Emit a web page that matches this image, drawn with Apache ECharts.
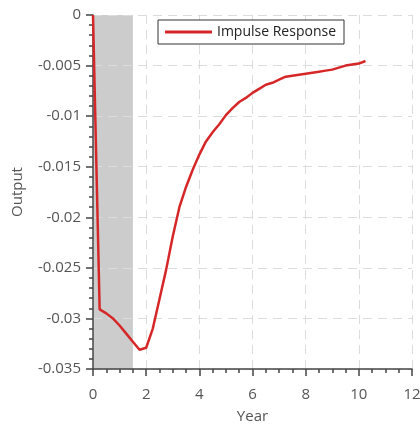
<!DOCTYPE html>
<html><head><meta charset="utf-8">
<script src="https://cdn.jsdelivr.net/npm/echarts@6/dist/echarts.min.js"></script>
<style>html,body{margin:0;padding:0;background:#fff}#c{width:420px;height:425px}</style>
</head><body><div id="c"></div>
<script>
const years = [0,0.25,0.5,0.75,1,1.25,1.5,1.75,2,2.25,2.5,2.75,3,3.25,3.5,3.75,4,4.25,4.5,4.75,5,5.25,5.5,5.75,6,6.25,6.5,6.75,7,7.25,7.5,7.75,8,8.25,8.5,8.75,9,9.25,9.5,9.75,10,10.25];
const output = [0,-0.0291,-0.0295,-0.0300,-0.0307,-0.0315,-0.0323,-0.0331,-0.0329,-0.0310,-0.0281,-0.0252,-0.0219,-0.0190,-0.0170,-0.0153,-0.0138,-0.0125,-0.0116,-0.0108,-0.0099,-0.0092,-0.0086,-0.0082,-0.0077,-0.0073,-0.0069,-0.0067,-0.0064,-0.0061,-0.0060,-0.0059,-0.0058,-0.0057,-0.0056,-0.0055,-0.0054,-0.0052,-0.0050,-0.0049,-0.0048,-0.00455];
const shadeRange = [0, 1.5];
const seriesName = 'Impulse Response';

const font = 'Open Sans';
const chart = echarts.init(document.getElementById('c'), null, {renderer:'canvas'});
const splitLine = {show:true, lineStyle:{color:'#dcdcdc', type:[9,6], width:1}};
chart.setOption({
  animation:false,
  textStyle:{fontFamily:font},
  grid:{left:93, right:8, top:15, bottom:56, containLabel:false, outerBoundsMode:'none'},
  legend:{
    left:158, top:20, data:[seriesName], itemWidth:47, itemHeight:3, itemGap:4,
    borderColor:'#333', borderWidth:1, backgroundColor:'#fff', padding:[5,8,5,7],
    textStyle:{fontFamily:font, fontSize:14, color:'#222'},
    icon:'rect'
  },
  xAxis:{
    type:'value', min:0, max:12, interval:2, z:2.5,
    name:'Year', nameLocation:'middle', nameGap:40,
    nameTextStyle:{fontFamily:font, fontSize:15, color:'#555'},
    axisLine:{show:true, onZero:false, lineStyle:{color:'#444', width:1.5}},
    axisTick:{show:true, inside:false, length:7, lineStyle:{color:'#444', width:1.5}},
    minorTick:{show:true, splitNumber:4, length:4, lineStyle:{color:'#444', width:1.5}},
    axisLabel:{fontFamily:font, fontSize:15, color:'#555', margin:18},
    splitLine:splitLine
  },
  yAxis:{
    type:'value', min:-0.035, max:0, interval:0.005, z:2.5,
    name:'Output', nameLocation:'middle', nameGap:68,
    nameTextStyle:{fontFamily:font, fontSize:15, color:'#555'},
    axisLine:{show:true, onZero:false, lineStyle:{color:'#444', width:1.5}},
    axisTick:{show:true, inside:false, length:7, lineStyle:{color:'#444', width:1.5}},
    minorTick:{show:true, splitNumber:5, length:4, lineStyle:{color:'#444', width:1.5}},
    axisLabel:{fontFamily:font, fontSize:15, color:'#555', margin:12,
      formatter:v=>String(parseFloat(v.toFixed(4)))},
    splitLine:splitLine
  },
  series:[
    {
      type:'line', name:'shade', data:[], z:1, silent:true,
      markArea:{silent:true, z:1, itemStyle:{color:'#cccccc', opacity:1},
        data:[[{xAxis:shadeRange[0]},{xAxis:shadeRange[1]}]]}
    },
    {
      type:'line', name:seriesName, data:years.map((x,i)=>[x,output[i]]),
      showSymbol:false, symbol:'none', lineStyle:{color:'#d62728', width:2.5}, itemStyle:{color:'#d62728'}, z:3
    }
  ]
});
</script></body></html>
